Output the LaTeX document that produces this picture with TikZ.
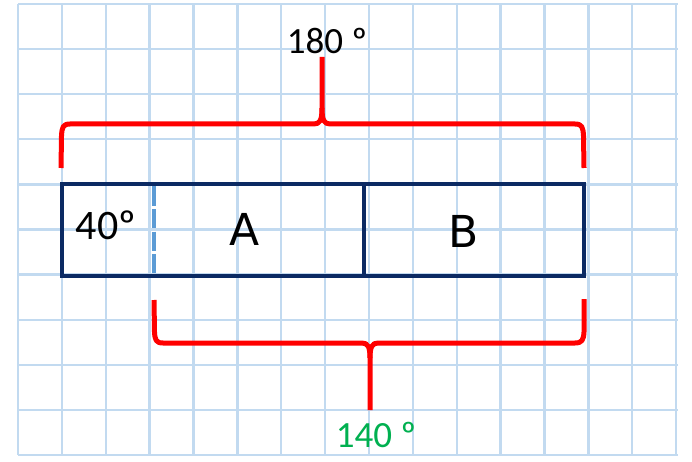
\documentclass[tikz,border=0pt]{standalone}
\usepackage{fontspec}
\setmainfont{Carlito}
\newfontfamily\handfont{DejaVu Sans}
\definecolor{gridblue}{HTML}{C2DAF0}
\definecolor{navy}{HTML}{0B2A63}
\definecolor{dashblue}{HTML}{5B9BD5}
\definecolor{bracered}{HTML}{FF0000}
\definecolor{labelgreen}{HTML}{00B050}
\tikzset{
  gridline/.style={draw=gridblue, line width=2.4pt},
  boxline/.style={draw=navy, line width=4pt},
  brace/.style={draw=bracered, line width=5pt, line join=round},
  numlabel/.style={inner sep=0pt, font=\fontsize{37}{40}\selectfont},
  letterlabel/.style={inner sep=0pt, font=\handfont\fontsize{44}{48}\selectfont},
}
\begin{document}
\begin{tikzpicture}[x=1pt,y=-1pt]
\useasboundingbox (0,0) rectangle (692,462);
\fill[white] (0,0) rectangle (692,462);
% grid
\foreach \k in {0,...,15} {
  \draw[gridline] ({18+43.87*\k},4) -- ({18+43.87*\k},455);
}
\foreach \j in {0,...,10} {
  \draw[gridline] (18,{4+45.1*\j}) -- (678,{4+45.1*\j});
}
% box
\draw[dashblue, line width=3.8pt, dash pattern=on 19pt off 3.5pt] (154,186.5) -- (154,273.5);
\draw[boxline] (61.5,184.5) rectangle (583.5,275.5);
\draw[boxline] (364,184.5) -- (364,275.5);
% labels
\node[numlabel, font=\fontsize{42}{46}\selectfont] (forty) at (106,225) {40º};
\node[letterlabel] (a) at (245,229) {A};
\node[letterlabel] (b) at (464,231) {B};
\node[numlabel] (top) at (327,41) {180 º};
\node[numlabel, text=labelgreen] (bottom) at (376,435) {140 º};
% top brace
\coordinate (ttip) at (322,57);
\draw[brace] (61,168) -- (61.5,136) .. controls (62,127) and (63,124) .. (70,124)
  -- (314,124) .. controls (320,124) and (322,120) .. (322,108) -- (ttip);
\draw[brace] (322,108) .. controls (322,120) and (324,124) .. (330,124)
  -- (575,124) .. controls (582,124) and (583,127) .. (583.5,136) -- (584,168);
% bottom brace
\coordinate (btip) at (370,410);
\draw[brace] (154,300) -- (154.5,332) .. controls (155,340) and (156,343) .. (163,343)
  -- (362,343) .. controls (368,343) and (370,347) .. (370,358) -- (btip);
\draw[brace] (370,358) .. controls (370,347) and (372,343) .. (378,343)
  -- (575,343) .. controls (582,343) and (583.5,340) .. (584,332) -- (584,299);
\end{tikzpicture}
\end{document}
